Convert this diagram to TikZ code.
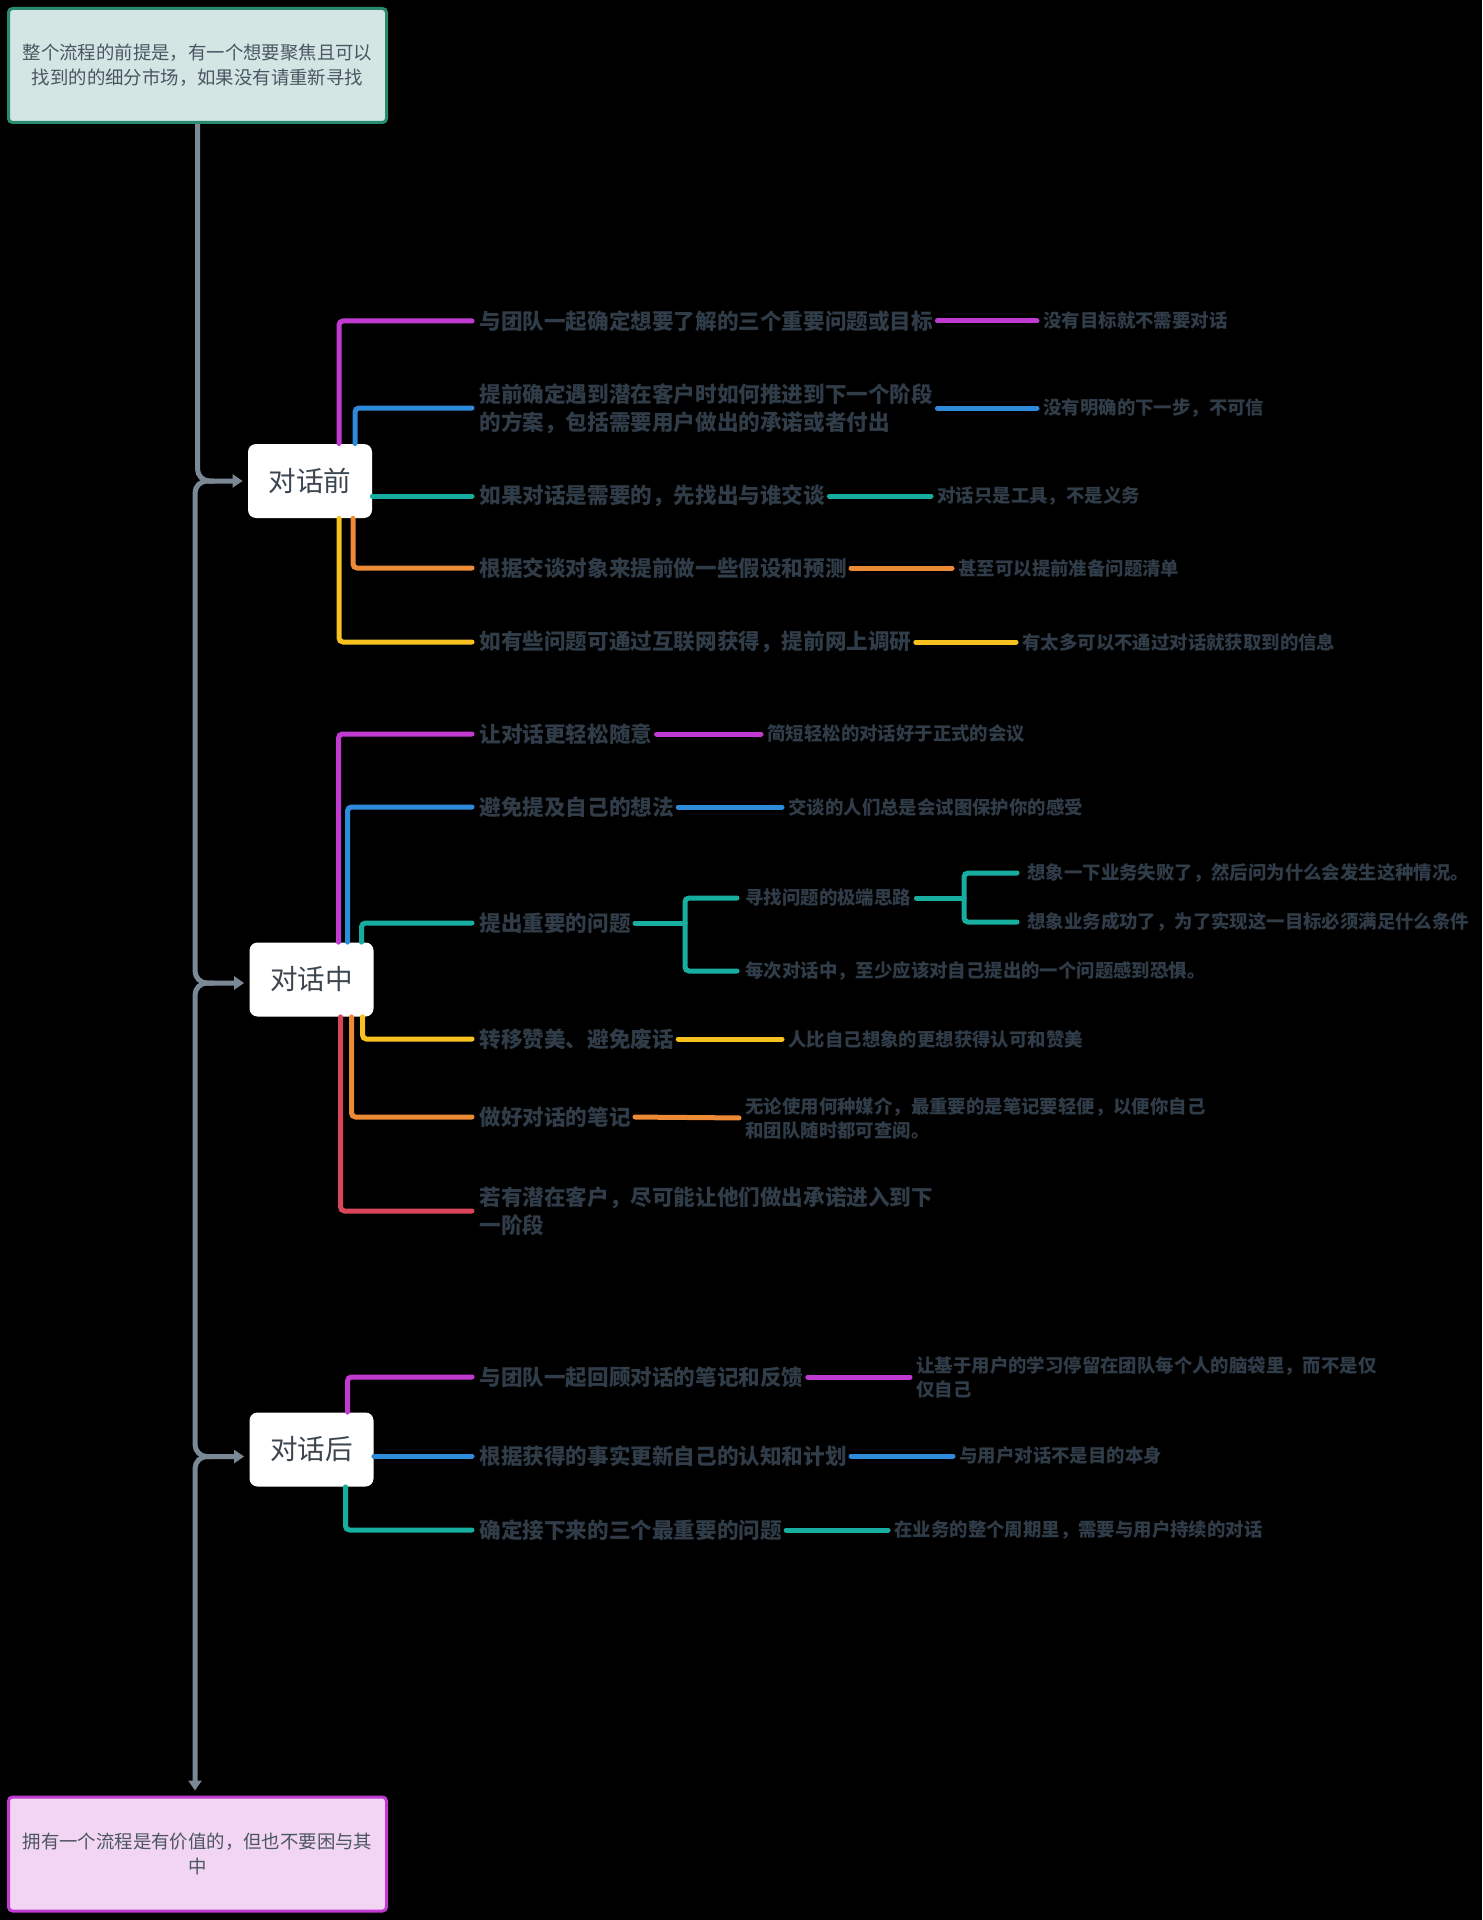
\documentclass[tikz,border=0pt]{standalone}
\usepackage{fontspec}
\setmainfont{Noto Sans CJK SC}
\usetikzlibrary{arrows.meta,calc}

\definecolor{cpur}{HTML}{C13BD2}
\definecolor{cblue}{HTML}{2E8BDB}
\definecolor{cteal}{HTML}{17AD9F}
\definecolor{corange}{HTML}{EC8A36}
\definecolor{cyellow}{HTML}{F7C21F}
\definecolor{cred}{HTML}{D9465A}
\definecolor{trunkc}{HTML}{7B8895}
\definecolor{txt}{HTML}{303C48}
\definecolor{lbl}{HTML}{3C4650}
\definecolor{boxtxt}{HTML}{4B5662}
\definecolor{tealf}{HTML}{D3E6E3}
\definecolor{tealb}{HTML}{2A8A70}
\definecolor{pinkf}{HTML}{F1D5F3}
\definecolor{pinkb}{HTML}{C13BD2}

\tikzset{
  lnk/.style={line width=2.5pt, rounded corners=2pt, line cap=round},
  tolabel/.style={lnk, shorten >=3.5pt},
  tosub/.style={lnk, shorten <=2pt, shorten >=3pt},
  main/.style={anchor=west, inner sep=0pt, text=txt, align=left,
    font=\bfseries\fontsize{10.8pt}{14pt}\selectfont},
  subt/.style={anchor=west, inner sep=0pt, text=txt, align=left,
    font=\bfseries\fontsize{9.2pt}{12pt}\selectfont},
  phase/.style={fill=white, rounded corners=4pt, minimum width=62pt,
    minimum height=37pt, inner sep=0pt, text=lbl,
    font=\fontsize{13.8pt}{16pt}\selectfont},
  endbox/.style={line width=1.5pt, rounded corners=2pt, minimum width=189pt,
    minimum height=57pt, inner sep=0pt, text=boxtxt, align=center,
    font=\fontsize{9.2pt}{12.5pt}\selectfont},
  trunk/.style={draw=trunkc, line width=2.5pt, rounded corners=6pt,
    shorten >=2.5pt, -{Triangle[length=5pt,width=6.5pt]}},
}

\begin{document}
\begin{tikzpicture}[x=0.5pt, y=-0.5pt]
  % canvas
  \fill[black] (0,0) rectangle (1482,1920);
  \useasboundingbox (0,0) rectangle (1482,1920);

  % start and end boxes
  \node[endbox, draw=tealb, fill=tealf] (top) at (197.5,65.5)
    {整个流程的前提是，有一个想要聚焦且可以\\找到的的细分市场，如果没有请重新寻找};
  \node[endbox, draw=pinkb, fill=pinkf] (bot) at (197.5,1854)
    {拥有一个流程是有价值的，但也不要困与其\\中};

  % phase nodes
  \node[phase] (qian)  at (310,481)    {对话前};
  \node[phase] (zhong) at (311.5,979.5) {对话中};
  \node[phase] (hou)   at (311.5,1449.5) {对话后};

  % trunk
  \coordinate (j1) at (214,481);    \coordinate (k1) at (195,481);
  \coordinate (j2) at (214,983);    \coordinate (k2) at (195,983);
  \coordinate (j3) at (214,1456.5); \coordinate (k3) at (195,1456.5);
  \draw[trunk] (top.south) |- (qian.west);
  \draw[trunk] (j1) -- (k1) |- ($(zhong.west)+(0,3.5)$);
  \draw[trunk] (j2) -- (k2) |- ($(hou.west)+(0,7)$);
  \draw[trunk] (j3) -- (k3) -- (k3 |- bot.north);

  % ---- before the conversation ----
  \node[main] (t11) at (479,321) {与团队一起确定想要了解的三个重要问题或目标};
  \node[main] (t12) at (479,409) {提前确定遇到潜在客户时如何推进到下一个阶段\\的方案，包括需要用户做出的承诺或者付出};
  \node[main] (t13) at (479,496) {如果对话是需要的，先找出与谁交谈};
  \node[main] (t14) at (479,568) {根据交谈对象来提前做一些假设和预测};
  \node[main] (t15) at (479,642) {如有些问题可通过互联网获得，提前网上调研};

  \node[subt] (s11) at (1043,321) {没有目标就不需要对话};
  \node[subt] (s12) at (1043,408) {没有明确的下一步，不可信};
  \node[subt] (s13) at (937,496)  {对话只是工具，不是义务};
  \node[subt] (s14) at (958,568)  {甚至可以提前准备问题清单};
  \node[subt] (s15) at (1022,642) {有太多可以不通过对话就获取到的信息};

  \draw[tolabel, draw=cpur]    ($(qian.north)+(29,0)$) |- (t11.west);
  \draw[tolabel, draw=cblue]   ($(qian.north)+(45,0)$) |- ($(t12.west)+(0,-1)$);
  \draw[tolabel, draw=cteal]   ($(qian.east)+(0,15)$) -- (t13.west);
  \draw[tolabel, draw=corange] ($(qian.south)+(43,0)$) |- (t14.west);
  \draw[tolabel, draw=cyellow] ($(qian.south)+(29,0)$) |- (t15.west);

  \draw[tosub, draw=cpur]    (t11.east) -- (s11.west);
  \draw[tosub, draw=cblue]   ($(t12.east)+(0,-1)$) -- (s12.west);
  \draw[tosub, draw=cteal]   (t13.east) -- (s13.west);
  \draw[tosub, draw=corange] (t14.east) -- (s14.west);
  \draw[tosub, draw=cyellow] (t15.east) -- (s15.west);

  % ---- during the conversation ----
  \node[main] (t21) at (479,734)  {让对话更轻松随意};
  \node[main] (t22) at (479,807)  {避免提及自己的想法};
  \node[main] (t23) at (479,923)  {提出重要的问题};
  \node[main] (t24) at (479,1039) {转移赞美、避免废话};
  \node[main] (t25) at (479,1117) {做好对话的笔记};
  \node[main] (t26) at (479,1211) {若有潜在客户，尽可能让他们做出承诺进入到下\\一阶段};

  \node[subt] (s21) at (767,734)  {简短轻松的对话好于正式的会议};
  \node[subt] (s22) at (788,807)  {交谈的人们总是会试图保护你的感受};
  \node[subt] (u1)  at (745,898)  {寻找问题的极端思路};
  \node[subt] (u2)  at (745,971)  {每次对话中，至少应该对自己提出的一个问题感到恐惧。};
  \node[subt] (v1)  at (1027,873) {想象一下业务失败了，然后问为什么会发生这种情况。};
  \node[subt] (v2)  at (1027,922) {想象业务成功了，为了实现这一目标必须满足什么条件};
  \node[subt] (s24) at (788,1039) {人比自己想象的更想获得认可和赞美};
  \node[subt] (s25) at (745,1118) {无论使用何种媒介，最重要的是笔记要轻便，以便你自己\\和团队随时都可查阅。};

  \draw[tolabel, draw=cpur]    ($(zhong.north)+(27,0)$) |- (t21.west);
  \draw[tolabel, draw=cblue]   ($(zhong.north)+(36,0)$) |- (t22.west);
  \draw[tolabel, draw=cteal]   ($(zhong.north)+(50,0)$) |- (t23.west);
  \draw[tolabel, draw=cred]    ($(zhong.south)+(29,0)$) |- (t26.west);
  \draw[tolabel, draw=corange] ($(zhong.south)+(40,0)$) |- (t25.west);
  \draw[tolabel, draw=cyellow] ($(zhong.south)+(51,0)$) |- (t24.west);

  \draw[tosub, draw=cpur]    (t21.east) -- (s21.west);
  \draw[tosub, draw=cblue]   (t22.east) -- (s22.west);
  \draw[tosub, draw=cyellow] (t24.east) -- (s24.west);
  \draw[tosub, draw=corange] (t25.east) -- (s25.west);

  % bracket for the question branch
  \coordinate (b23) at (685,923);
  \draw[lnk, draw=cteal, shorten <=2pt] (t23.east) -- (b23);
  \draw[lnk, draw=cteal, shorten >=4pt] (b23) |- (u1.west);
  \draw[lnk, draw=cteal, shorten >=4pt] (b23) |- (u2.west);

  \coordinate (bu1) at (964,898);
  \draw[lnk, draw=cteal, shorten <=2.5pt] (u1.east) -- (bu1);
  \draw[lnk, draw=cteal, shorten >=5pt] (bu1) |- (v1.west);
  \draw[lnk, draw=cteal, shorten >=5pt] (bu1) |- (v2.west);

  % ---- after the conversation ----
  \node[main] (t31) at (479,1377) {与团队一起回顾对话的笔记和反馈};
  \node[main] (t32) at (479,1456) {根据获得的事实更新自己的认知和计划};
  \node[main] (t33) at (479,1530) {确定接下来的三个最重要的问题};

  \node[subt] (s31) at (916,1377) {让基于用户的学习停留在团队每个人的脑袋里，而不是仅\\仅自己};
  \node[subt] (s32) at (959,1456) {与用户对话不是目的本身};
  \node[subt] (s33) at (894,1530) {在业务的整个周期里，需要与用户持续的对话};

  \draw[tolabel, draw=cpur]  ($(hou.north)+(36,0)$) |- (t31.west);
  \draw[tolabel, draw=cblue] ($(hou.east)+(0,6.5)$) -- (t32.west);
  \draw[tolabel, draw=cteal] ($(hou.south)+(34,0)$) |- (t33.west);

  \draw[tosub, draw=cpur]  (t31.east) -- (s31.west);
  \draw[tosub, draw=cblue] (t32.east) -- (s32.west);
  \draw[tosub, draw=cteal] (t33.east) -- (s33.west);
\end{tikzpicture}
\end{document}
